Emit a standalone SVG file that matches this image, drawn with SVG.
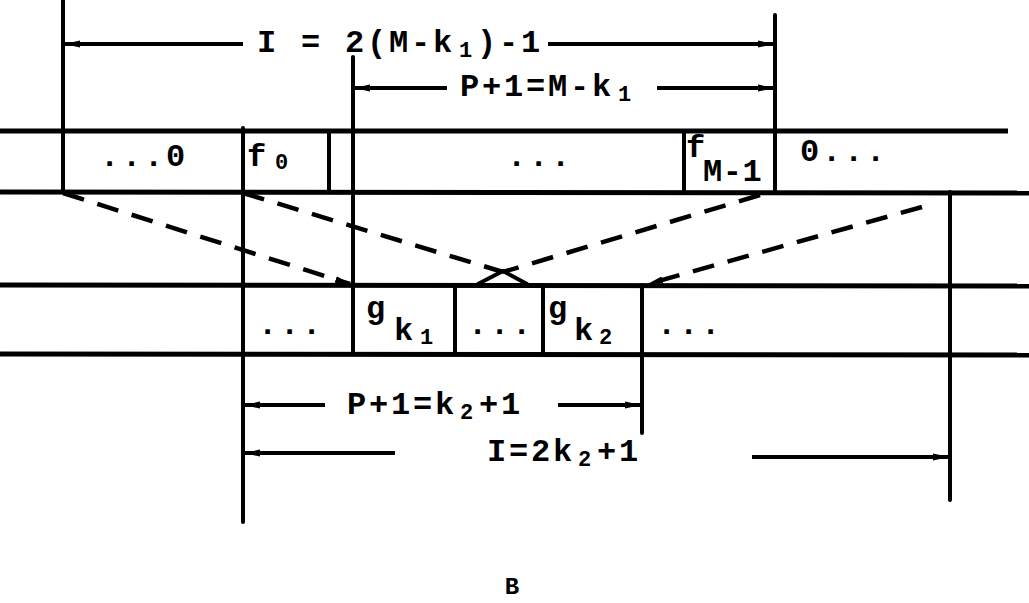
<svg xmlns="http://www.w3.org/2000/svg" width="1029" height="603" viewBox="0 0 1029 603">
<defs>
<style>
.ln{stroke:#000;stroke-width:4;fill:none;stroke-linecap:round}
.hl{stroke:#000;stroke-width:5;fill:none}
.dim{stroke:#000;stroke-width:4;fill:none}
.dash{stroke:#000;stroke-width:4.5;fill:none;stroke-dasharray:22 14}
.t{font-family:"Liberation Mono","DejaVu Sans Mono",monospace;font-weight:bold;font-size:32px;letter-spacing:2.8px;fill:#000}
.s{font-size:22px;letter-spacing:0}
</style>
<marker id="ah" viewBox="0 0 16 10" refX="15" refY="5" markerWidth="16" markerHeight="10" markerUnits="userSpaceOnUse" orient="auto-start-reverse">
<path d="M0,1.5 L16,5 L0,8.5 Z" fill="#000"/>
</marker>
</defs>
<rect width="1029" height="603" fill="#fff"/>

<g id="top-strip">
<line class="hl" x1="0" y1="131" x2="1008" y2="131"/>
<line class="hl" x1="0" y1="192" x2="1029" y2="193"/>
<line class="ln" x1="63" y1="0" x2="63" y2="192"/>
<line class="ln" x1="243" y1="128" x2="243" y2="522"/>
<line class="ln" x1="329" y1="131" x2="329" y2="192"/>
<line class="ln" x1="353" y1="57" x2="353" y2="354"/>
<line class="ln" x1="684" y1="131" x2="684" y2="192"/>
<line class="ln" x1="775" y1="15" x2="775" y2="192"/>
<text class="t" x="100" y="166">...0</text>
<text class="t" x="247" y="166">f<tspan class="s" x="275" y="169">0</tspan></text>
<text class="t" x="507" y="166">...</text>
<text class="t" x="686" y="157">f</text>
<text class="t" x="703" y="181" style="letter-spacing:0.5px">M-1</text>
<text class="t" x="800" y="161">0...</text>
</g>

<g id="bottom-strip">
<line class="hl" x1="0" y1="285" x2="1029" y2="286"/>
<line class="hl" x1="0" y1="354" x2="1029" y2="355"/>
<line class="ln" x1="455" y1="285" x2="455" y2="354"/>
<line class="ln" x1="543" y1="285" x2="543" y2="354"/>
<line class="ln" x1="642" y1="285" x2="642" y2="433"/>
<line class="ln" x1="950" y1="192" x2="950" y2="500"/>
<text class="t" x="258" y="334">...</text>
<text class="t" x="366" y="318">g<tspan x="394" y="340">k</tspan><tspan class="s" x="420" y="344">1</tspan></text>
<text class="t" x="468" y="334">...</text>
<text class="t" x="548" y="318">g<tspan x="574" y="340">k</tspan><tspan class="s" x="599" y="344">2</tspan></text>
<text class="t" x="657" y="334">...</text>
</g>

<g id="connectors">
<line class="dash" x1="63" y1="193" x2="350" y2="284" marker-end="url(#ah)"/>
<line class="dash" x1="243" y1="193" x2="503" y2="272"/>
<line class="dash" x1="760" y1="195" x2="503" y2="272"/>
<line class="dash" x1="922" y1="207" x2="648" y2="284" marker-end="url(#ah)"/>
<path class="ln" d="M478,284 L503,271 L527,284"/>
</g>

<g id="dimensions">
<line class="dim" x1="243" y1="44" x2="65" y2="44" marker-end="url(#ah)"/>
<line class="dim" x1="548" y1="44" x2="773" y2="44" marker-end="url(#ah)"/>
<text class="t" x="257" y="52">I = 2(M-k<tspan class="s" x="459" y="57">1</tspan><tspan x="477" y="52">)-1</tspan></text>

<line class="dim" x1="447" y1="88" x2="355" y2="88" marker-end="url(#ah)"/>
<line class="dim" x1="657" y1="88" x2="773" y2="88" marker-end="url(#ah)"/>
<text class="t" x="460" y="96">P+1=M-k<tspan class="s" x="618" y="101">1</tspan></text>

<line class="dim" x1="325" y1="405" x2="245" y2="405" marker-end="url(#ah)"/>
<line class="dim" x1="558" y1="405" x2="640" y2="405" marker-end="url(#ah)"/>
<text class="t" x="347" y="414">P+1=k<tspan class="s" x="460" y="419">2</tspan><tspan x="479" y="414">+1</tspan></text>

<line class="dim" x1="395" y1="453" x2="245" y2="453" marker-end="url(#ah)"/>
<line class="dim" x1="752" y1="457" x2="948" y2="457" marker-end="url(#ah)"/>
<text class="t" x="487" y="461">I=2k<tspan class="s" x="578" y="466">2</tspan><tspan x="597" y="461">+1</tspan></text>
</g>

<text x="512" y="594" text-anchor="middle" style="font-family:'Liberation Mono','DejaVu Sans Mono',monospace;font-weight:bold;font-size:24px">B</text>
</svg>
